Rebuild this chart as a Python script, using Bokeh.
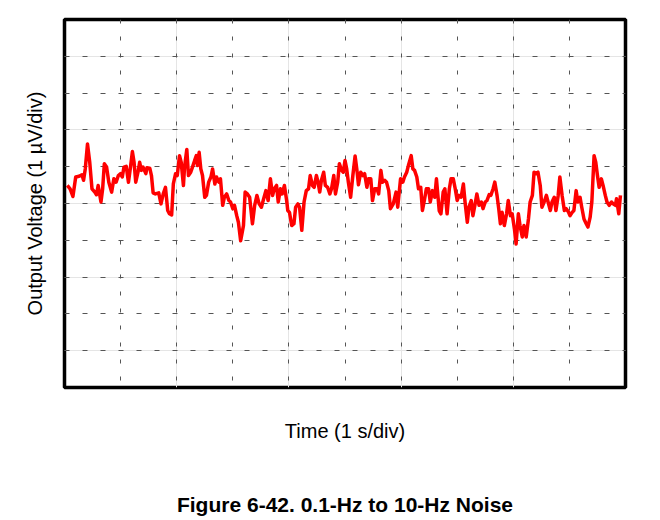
from bokeh.plotting import figure
from bokeh.models import Grid, FixedTicker, LinearAxis, Range1d
from bokeh.embed import file_html
from bokeh.resources import INLINE

# Time in seconds (1 s/div), output voltage in microvolts (1 uV/div)
time_s = [
    0.05, 0.10, 0.15, 0.20, 0.26, 0.31, 0.34, 0.37, 0.41, 0.45, 0.49, 0.54, 0.57, 0.60, 0.65, 0.68,
    0.71, 0.75, 0.79, 0.84, 0.88, 0.92, 0.96, 1.00, 1.03, 1.06, 1.10, 1.14, 1.18, 1.21, 1.24, 1.27,
    1.31, 1.34, 1.37, 1.40, 1.45, 1.47, 1.52, 1.55, 1.58, 1.62, 1.68, 1.72, 1.76, 1.80, 1.84, 1.87,
    1.91, 1.94, 1.98, 2.01, 2.05, 2.08, 2.12, 2.14, 2.18, 2.21, 2.25, 2.29, 2.32, 2.35, 2.37, 2.40,
    2.43, 2.46, 2.50, 2.53, 2.57, 2.61, 2.64, 2.68, 2.71, 2.75, 2.78, 2.82, 2.85, 2.89, 2.93, 2.96,
    3.00, 3.03, 3.07, 3.10, 3.14, 3.19, 3.22, 3.26, 3.30, 3.35, 3.39, 3.43, 3.47, 3.51, 3.55, 3.59,
    3.63, 3.67, 3.71, 3.74, 3.78, 3.81, 3.85, 3.88, 3.92, 3.96, 3.98, 4.01, 4.05, 4.09, 4.12, 4.16,
    4.19, 4.23, 4.27, 4.31, 4.35, 4.38, 4.42, 4.45, 4.49, 4.52, 4.55, 4.58, 4.62, 4.65, 4.69, 4.73,
    4.76, 4.80, 4.83, 4.87, 4.90, 4.94, 4.97, 5.00, 5.03, 5.06, 5.10, 5.14, 5.18, 5.21, 5.24, 5.28,
    5.32, 5.35, 5.39, 5.42, 5.46, 5.49, 5.53, 5.57, 5.60, 5.64, 5.67, 5.71, 5.74, 5.78, 5.81, 5.86,
    5.91, 5.94, 5.99, 6.03, 6.06, 6.10, 6.13, 6.18, 6.21, 6.24, 6.28, 6.31, 6.35, 6.38, 6.42, 6.45,
    6.49, 6.52, 6.56, 6.60, 6.63, 6.68, 6.71, 6.75, 6.78, 6.82, 6.86, 6.89, 6.93, 6.96, 7.00, 7.03,
    7.07, 7.11, 7.14, 7.18, 7.21, 7.25, 7.28, 7.32, 7.35, 7.39, 7.43, 7.46, 7.50, 7.53, 7.57, 7.60,
    7.64, 7.67, 7.71, 7.74, 7.77, 7.80, 7.84, 7.88, 7.91, 7.95, 7.98, 8.02, 8.05, 8.09, 8.12, 8.16,
    8.19, 8.23, 8.27, 8.30, 8.34, 8.37, 8.41, 8.44, 8.48, 8.51, 8.55, 8.59, 8.62, 8.66, 8.69, 8.73,
    8.76, 8.80, 8.83, 8.87, 8.91, 8.94, 8.98, 9.01, 9.05, 9.08, 9.12, 9.15, 9.19, 9.22, 9.26, 9.30,
    9.33, 9.37, 9.40, 9.44, 9.47, 9.50, 9.53, 9.57, 9.60, 9.64, 9.67, 9.71, 9.75, 9.78, 9.82, 9.84,
    9.88, 9.91,
]
voltage_uv = [
    0.49, 0.40, 0.19, 0.72, 0.74, 0.78, 0.63, 0.94, 1.62, 1.12, 0.40, 0.31, 0.24, 0.49, 0.04, 0.40,
    1.08, 0.99, 0.58, 0.31, 0.67, 0.58, 0.76, 0.81, 0.72, 0.99, 1.01, 0.58, 1.03, 1.41, 1.12, 0.58,
    0.85, 1.12, 0.90, 0.99, 0.81, 0.97, 0.96, 0.76, 0.29, 0.26, 0.29, -0.01, 0.26, 0.44, -0.19, -0.28,
    -0.31, 0.53, 0.81, 0.76, 1.30, 1.12, 0.49, 0.99, 1.47, 0.76, 0.85, 1.03, 1.17, 1.30, 1.03, 1.39,
    0.94, 0.76, 0.17, 0.22, 0.58, 0.72, 0.94, 0.53, 0.72, 0.58, 0.67, -0.05, 0.17, 0.26, 0.08, 0.04,
    -0.14, -0.05, -0.33, -0.51, -1.01, -0.60, 0.31, 0.26, 0.17, -0.55, -0.05, 0.22, -0.01, -0.10, 0.13, 0.35,
    0.08, 0.67, 0.22, 0.40, 0.49, 0.04, 0.40, 0.26, 0.49, 0.08, -0.19, -0.24, -0.60, -0.55, -0.10, -0.01,
    -0.10, -0.73, 0.04, 0.35, 0.40, 0.76, 0.49, 0.44, 0.76, 0.58, 0.31, 0.63, 0.85, 0.49, 0.44, 0.26,
    0.40, 0.76, 0.26, 0.58, 1.08, 0.90, 0.85, 1.17, 0.94, 0.58, 0.17, 0.76, 1.29, 0.94, 0.51, 0.85,
    0.76, 0.81, 0.44, 0.67, 0.67, 0.08, 0.40, 0.40, 0.26, 0.90, 0.58, 0.63, 0.58, 0.35, -0.14, -0.01,
    0.31, -0.10, 0.67, 0.58, 0.72, 0.85, 1.03, 1.30, 0.94, 0.90, 0.72, 0.40, 0.44, -0.19, 0.13, 0.40,
    0.40, 0.04, 0.35, 0.17, 0.67, -0.20, -0.28, 0.31, 0.40, -0.28, 0.40, 0.67, 0.67, 0.44, 0.08, 0.22,
    0.17, 0.53, 0.04, -0.51, -0.10, 0.08, -0.33, -0.01, 0.26, -0.05, 0.04, -0.14, 0.04, 0.08, 0.24, 0.22,
    0.40, 0.58, 0.22, -0.14, -0.55, -0.24, -0.60, -0.28, 0.08, -0.33, -0.28, -0.69, -1.10, -0.28, -0.60, -0.91,
    -0.60, -0.91, -0.42, 0.04, 0.22, 0.85, 0.81, 0.85, 0.49, -0.10, 0.04, 0.22, 0.04, -0.19, 0.04, 0.17,
    -0.19, 0.22, 0.72, 0.22, -0.19, -0.14, -0.22, -0.33, -0.24, -0.19, 0.35, 0.04, 0.17, -0.10, -0.42, -0.55,
    -0.64, -0.37, 0.04, 1.30, 1.12, 0.76, 0.44, 0.67, 0.49, 0.22, 0.04, -0.05, 0.04, -0.01, -0.05, 0.13,
    -0.28, 0.22,
]

x_divisions = [1, 2, 3, 4, 5, 6, 7, 8, 9]
y_divisions = [-4, -3, -2, -1, 0, 1, 2, 3, 4]

x_label = "Time (1 s/div)"
y_label = "Output Voltage (1 µV/div)"
caption = "Figure 6-42. 0.1-Hz to 10-Hz Noise"

FONT = "Liberation Sans"

p = figure(
    width=660, height=520,
    x_range=Range1d(0, 10), y_range=Range1d(-5, 5),
    x_axis_location=None, y_axis_location=None,
    min_border_left=64, min_border_right=35, min_border_top=19, min_border_bottom=133,
    output_backend="svg", toolbar_location=None,
    background_fill_color="white", border_fill_color="white",
)
p.outline_line_color = "black"
p.outline_line_width = 3.5

grid_color = "#555555"
xg = Grid(dimension=0, ticker=FixedTicker(ticks=x_divisions),
          grid_line_color=grid_color, grid_line_width=1,
          grid_line_dash="4 13", grid_line_dash_offset=10)
yg = Grid(dimension=1, ticker=FixedTicker(ticks=y_divisions),
          grid_line_color=grid_color, grid_line_width=1,
          grid_line_dash="5 13", grid_line_dash_offset=0)
p.add_layout(xg)
p.add_layout(yg)

p.line(time_s, voltage_uv, line_color="#ff0000", line_width=3.5, line_join="round")


def blank_axis(text, standoff, size="20px", style="normal"):
    return LinearAxis(ticker=FixedTicker(ticks=[]), axis_label=text,
                      axis_line_color=None, major_tick_line_color=None,
                      minor_tick_line_color=None, major_tick_out=0, major_tick_in=0,
                      minor_tick_out=0, minor_tick_in=0, major_label_standoff=0,
                      axis_label_standoff=standoff,
                      axis_label_text_font=FONT, axis_label_text_font_size=size,
                      axis_label_text_font_style=style, axis_label_text_color="black")


p.add_layout(blank_axis(y_label, 19), "left")
p.add_layout(blank_axis(x_label, 32), "below")
# figure caption placed under the axis title
p.add_layout(blank_axis(caption, 48, size="21px", style="bold"), "below")

open("out.html", "w").write(file_html(p, INLINE))
